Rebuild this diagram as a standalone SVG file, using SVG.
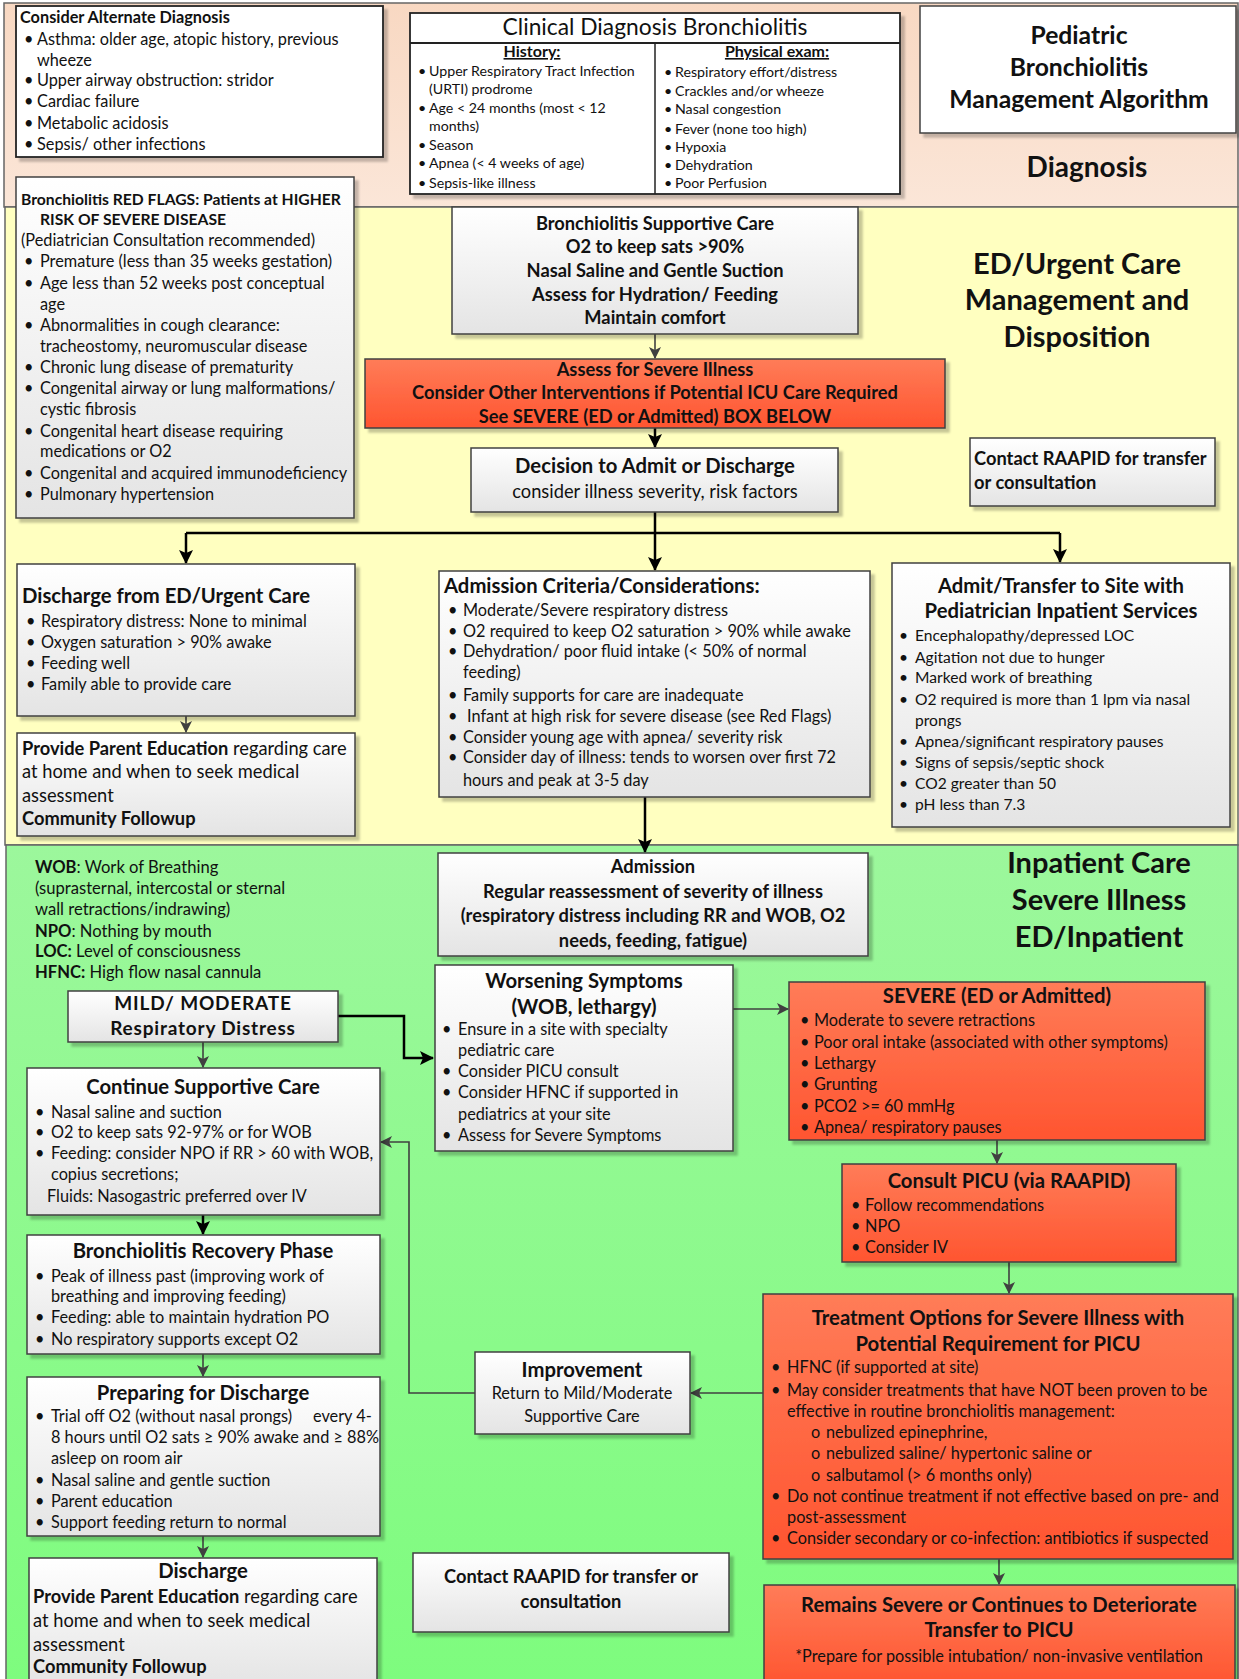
<svg xmlns="http://www.w3.org/2000/svg" width="1239" height="1679" viewBox="0 0 1239 1679">
<defs>
<linearGradient id="boxG" x1="0" y1="0" x2="0" y2="1"><stop offset="0" stop-color="#FFFFFF"/><stop offset="1" stop-color="#E4E4E4"/></linearGradient>
<linearGradient id="redG" x1="0" y1="0" x2="0" y2="1"><stop offset="0" stop-color="#FF7C58"/><stop offset="1" stop-color="#FF5530"/></linearGradient>
<linearGradient id="peachG" x1="0" y1="0" x2="0" y2="1"><stop offset="0" stop-color="#F8D8C2"/><stop offset="1" stop-color="#FBE6D8"/></linearGradient>
<linearGradient id="greenG" x1="0" y1="0" x2="0" y2="1"><stop offset="0" stop-color="#9CF79C"/><stop offset="1" stop-color="#7EFC7E"/></linearGradient>
<filter id="sh" x="-5%" y="-5%" width="115%" height="120%"><feDropShadow dx="4" dy="4" stdDeviation="1.2" flood-color="#000" flood-opacity="0.22"/></filter>
<marker id="ag" markerWidth="12" markerHeight="12" refX="11" refY="6" orient="auto" markerUnits="userSpaceOnUse"><path d="M0,0 L12,6 L0,12 L3,6 z" fill="#404040"/></marker>
<marker id="ab" markerWidth="14" markerHeight="14" refX="13" refY="7" orient="auto" markerUnits="userSpaceOnUse"><path d="M0,0 L14,7 L0,14 L3,7 z" fill="#000"/></marker>
<style>
text{font-family:Lato,'Liberation Sans',sans-serif;fill:#111;}
.b{font-weight:bold;}
.c{text-anchor:middle;}
.f14{font-size:14.2px;}
.h16{font-size:16px;font-weight:bold;text-anchor:middle;text-decoration:underline;}
.f15{font-size:15.6px;}
.f16{font-size:16.3px;}
.f18{font-size:18.3px;}
.t20{font-size:20.3px;font-weight:bold;}
.f23{font-size:22.8px;}
.f24{font-size:24.7px;}
.f28{font-size:29px;}
.box{fill:url(#boxG);stroke:#404040;stroke-width:1.5;filter:url(#sh);}
.red{fill:url(#redG);stroke:#404040;stroke-width:1.5;filter:url(#sh);}
.wb{fill:#fff;stroke:#222;stroke-width:1.8;filter:url(#sh);}
.cg{fill:none;stroke:#404040;stroke-width:1.6;marker-end:url(#ag);}
.cb{fill:none;stroke:#000;stroke-width:2.5;marker-end:url(#ab);}
</style>
</defs>

<!-- bands -->
<g id="bands">
<rect x="4" y="3" width="1234" height="204" fill="url(#peachG)" stroke="#666" stroke-width="1.5"/>
<rect x="5" y="207" width="1233" height="638" fill="#FFFFC0" stroke="#666" stroke-width="1.5"/>
<rect x="6" y="845" width="1232" height="836" fill="url(#greenG)" stroke="#666" stroke-width="1.5"/>
<text class="b c" style="font-size:28px" x="1087" y="177">Diagnosis</text>
<text class="b c f28" x="1077" y="274">ED/Urgent Care</text>
<text class="b c f28" x="1077" y="310">Management and</text>
<text class="b c f28" x="1077" y="347">Disposition</text>
<text class="b c f28" x="1099" y="873">Inpatient Care</text>
<text class="b c f28" x="1099" y="910">Severe Illness</text>
<text class="b c f28" x="1099" y="947">ED/Inpatient</text>
</g>

<!-- connectors -->
<g id="connectors">
<line class="cg" x1="655" y1="334" x2="655" y2="358"/>
<line class="cb" x1="655" y1="428" x2="655" y2="447"/>
<polyline fill="none" stroke="#000" stroke-width="2.5" points="655,512 655,533"/>
<polyline fill="none" stroke="#000" stroke-width="2.5" points="186,533 1060,533"/>
<line class="cb" x1="186" y1="533" x2="186" y2="563"/>
<line class="cb" x1="655" y1="533" x2="655" y2="570"/>
<line class="cb" x1="1060" y1="533" x2="1060" y2="562"/>
<line class="cg" x1="186" y1="716" x2="186" y2="732"/>
<line class="cb" x1="645" y1="797" x2="645" y2="852"/>
<line class="cg" x1="203" y1="1042" x2="203" y2="1067"/>
<polyline class="cb" points="338,1016 404,1016 404,1058 433,1058"/>
<line class="cb" x1="203" y1="1215" x2="203" y2="1234"/>
<line class="cg" x1="203" y1="1354" x2="203" y2="1376"/>
<line class="cg" x1="203" y1="1536" x2="203" y2="1557"/>
<line class="cg" x1="733" y1="1009" x2="788" y2="1009"/>
<line class="cg" x1="997" y1="1140" x2="997" y2="1163"/>
<line class="cg" x1="1009" y1="1262" x2="1009" y2="1293"/>
<line class="cg" x1="763" y1="1393" x2="691" y2="1393"/>
<polyline class="cg" points="475,1393 409,1393 409,1142 381,1142"/>
<line class="cg" x1="999" y1="1559" x2="999" y2="1584"/>
</g>

<!-- Diagnosis band nodes -->
<g id="alt-dx">
<rect class="wb" x="16" y="6" width="367" height="151"/>
<text class="b f16" x="20" y="23">Consider Alternate Diagnosis</text>
<text class="f16" x="24" y="45">•</text><text class="f16" x="37" y="45">Asthma: older age, atopic history, previous</text>
<text class="f16" x="37" y="66">wheeze</text>
<text class="f16" x="24" y="86">•</text><text class="f16" x="37" y="86">Upper airway obstruction: stridor</text>
<text class="f16" x="24" y="107">•</text><text class="f16" x="37" y="107">Cardiac failure</text>
<text class="f16" x="24" y="129">•</text><text class="f16" x="37" y="129">Metabolic acidosis</text>
<text class="f16" x="24" y="150">•</text><text class="f16" x="37" y="150">Sepsis/ other infections</text>
</g>

<g id="clinical-dx">
<rect class="wb" x="410" y="13" width="490" height="181"/>
<line x1="410" y1="43" x2="900" y2="43" stroke="#222" stroke-width="1.8"/>
<line x1="655" y1="43" x2="655" y2="194" stroke="#222" stroke-width="1.5"/>
<text class="c f23" x="655" y="35">Clinical Diagnosis Bronchiolitis</text>
<text class="h16" x="532" y="57">History:</text>
<text class="h16" x="777" y="57">Physical exam:</text>
<text class="f14" x="418" y="76">•</text><text class="f14" x="429" y="76">Upper Respiratory Tract Infection</text>
<text class="f14" x="429" y="94">(URTI) prodrome</text>
<text class="f14" x="418" y="113">•</text><text class="f14" x="429" y="113">Age &lt; 24 months (most &lt; 12</text>
<text class="f14" x="429" y="131">months)</text>
<text class="f14" x="418" y="150">•</text><text class="f14" x="429" y="150">Season</text>
<text class="f14" x="418" y="168">•</text><text class="f14" x="429" y="168">Apnea (&lt; 4 weeks of age)</text>
<text class="f14" x="418" y="188">•</text><text class="f14" x="429" y="188">Sepsis-like illness</text>
<text class="f14" x="664" y="77">•</text><text class="f14" x="675" y="77">Respiratory effort/distress</text>
<text class="f14" x="664" y="96">•</text><text class="f14" x="675" y="96">Crackles and/or wheeze</text>
<text class="f14" x="664" y="114">•</text><text class="f14" x="675" y="114">Nasal congestion</text>
<text class="f14" x="664" y="134">•</text><text class="f14" x="675" y="134">Fever (none too high)</text>
<text class="f14" x="664" y="152">•</text><text class="f14" x="675" y="152">Hypoxia</text>
<text class="f14" x="664" y="170">•</text><text class="f14" x="675" y="170">Dehydration</text>
<text class="f14" x="664" y="188">•</text><text class="f14" x="675" y="188">Poor Perfusion</text>
</g>

<g id="title">
<rect class="box" x="920" y="6" width="316" height="127" style="fill:#fff"/>
<text class="b c f24" x="1079" y="44">Pediatric</text>
<text class="b c f24" x="1079" y="76">Bronchiolitis</text>
<text class="b c f24" x="1079" y="108">Management Algorithm</text>
</g>

<!-- ED / Urgent care band -->
<g id="red-flags">
<rect class="box" x="16" y="177" width="338" height="341"/>
<text class="b" style="font-size:15.7px" x="21" y="205">Bronchiolitis RED FLAGS: Patients at HIGHER</text>
<text class="b" style="font-size:15.7px" x="40" y="225">RISK OF SEVERE DISEASE</text>
<text class="f16" x="21" y="246">(Pediatrician Consultation recommended)</text>
<text class="f16" x="24" y="267">•</text><text class="f16" x="40" y="267">Premature (less than 35 weeks gestation)</text>
<text class="f16" x="24" y="289">•</text><text class="f16" x="40" y="289">Age less than 52 weeks post conceptual</text>
<text class="f16" x="40" y="310">age</text>
<text class="f16" x="24" y="331">•</text><text class="f16" x="40" y="331">Abnormalities in cough clearance:</text>
<text class="f16" x="40" y="352">tracheostomy, neuromuscular disease</text>
<text class="f16" x="24" y="373">•</text><text class="f16" x="40" y="373">Chronic lung disease of prematurity</text>
<text class="f16" x="24" y="394">•</text><text class="f16" x="40" y="394">Congenital airway or lung malformations/</text>
<text class="f16" x="40" y="415">cystic fibrosis</text>
<text class="f16" x="24" y="437">•</text><text class="f16" x="40" y="437">Congenital heart disease requiring</text>
<text class="f16" x="40" y="457">medications or O2</text>
<text class="f16" x="24" y="479">•</text><text class="f16" x="40" y="479">Congenital and acquired immunodeficiency</text>
<text class="f16" x="24" y="500">•</text><text class="f16" x="40" y="500">Pulmonary hypertension</text>
</g>

<g id="supportive-care">
<rect class="box" x="452" y="207" width="406" height="127"/>
<text class="b c f18" x="655" y="230">Bronchiolitis Supportive Care</text>
<text class="b c f18" x="655" y="253">O2 to keep sats &gt;90%</text>
<text class="b c f18" x="655" y="277">Nasal Saline and Gentle Suction</text>
<text class="b c f18" x="655" y="301">Assess for Hydration/ Feeding</text>
<text class="b c f18" x="655" y="324">Maintain comfort</text>
</g>

<g id="assess-severe">
<rect class="red" x="365" y="359" width="580" height="69"/>
<text class="b c f18" x="655" y="376">Assess for Severe Illness</text>
<text class="b c f18" x="655" y="399">Consider Other Interventions if Potential ICU Care Required</text>
<text class="b c f18" x="655" y="423">See SEVERE (ED or Admitted) BOX BELOW</text>
</g>

<g id="decision">
<rect class="box" x="471" y="448" width="367" height="64"/>
<text class="c t20" x="655" y="473">Decision to Admit or Discharge</text>
<text class="c f18" x="655" y="498">consider illness severity, risk factors</text>
</g>

<g id="contact-raapid-1">
<rect class="box" x="970" y="438" width="245" height="68"/>
<text class="b f18" x="974" y="465">Contact RAAPID for transfer</text>
<text class="b f18" x="974" y="489">or consultation</text>
</g>

<g id="discharge-ed">
<rect class="box" x="17" y="564" width="338" height="152"/>
<text class="t20" x="22" y="603">Discharge from ED/Urgent Care</text>
<text class="f16" x="26" y="627">•</text><text class="f16" x="41" y="627">Respiratory distress: None to minimal</text>
<text class="f16" x="26" y="648">•</text><text class="f16" x="41" y="648">Oxygen saturation &gt; 90% awake</text>
<text class="f16" x="26" y="669">•</text><text class="f16" x="41" y="669">Feeding well</text>
<text class="f16" x="26" y="690">•</text><text class="f16" x="41" y="690">Family able to provide care</text>
</g>

<g id="parent-ed-1">
<rect class="box" x="17" y="733" width="338" height="103"/>
<text class="f18" x="22" y="755"><tspan class="b">Provide Parent Education</tspan> regarding care</text>
<text class="f18" x="22" y="778">at home and when to seek medical</text>
<text class="f18" x="22" y="802">assessment</text>
<text class="b f18" x="22" y="825">Community Followup</text>
</g>

<g id="admission-criteria">
<rect class="box" x="439" y="571" width="431" height="226"/>
<text class="t20" x="444" y="593">Admission Criteria/Considerations:</text>
<text class="f16" x="448" y="616">•</text><text class="f16" x="463" y="616">Moderate/Severe respiratory distress</text>
<text class="f16" x="448" y="637">•</text><text class="f16" x="463" y="637">O2 required to keep O2 saturation &gt; 90% while awake</text>
<text class="f16" x="448" y="657">•</text><text class="f16" x="463" y="657">Dehydration/ poor fluid intake (&lt; 50% of normal</text>
<text class="f16" x="463" y="678">feeding)</text>
<text class="f16" x="448" y="701">•</text><text class="f16" x="463" y="701">Family supports for care are inadequate</text>
<text class="f16" x="448" y="722">•</text><text class="f16" x="467" y="722">Infant at high risk for severe disease (see Red Flags)</text>
<text class="f16" x="448" y="743">•</text><text class="f16" x="463" y="743">Consider young age with apnea/ severity risk</text>
<text class="f16" x="448" y="763">•</text><text class="f16" x="463" y="763">Consider day of illness: tends to worsen over first 72</text>
<text class="f16" x="463" y="786">hours and peak at 3-5 day</text>
</g>

<g id="admit-transfer">
<rect class="box" x="892" y="563" width="338" height="264"/>
<text class="c t20" x="1061" y="593">Admit/Transfer to Site with</text>
<text class="c t20" x="1061" y="618">Pediatrician Inpatient Services</text>
<text class="f15" x="899" y="641">•</text><text class="f15" x="915" y="641">Encephalopathy/depressed LOC</text>
<text class="f15" x="899" y="663">•</text><text class="f15" x="915" y="663">Agitation not due to hunger</text>
<text class="f15" x="899" y="683">•</text><text class="f15" x="915" y="683">Marked work of breathing</text>
<text class="f15" x="899" y="705">•</text><text class="f15" x="915" y="705">O2 required is more than 1 lpm via nasal</text>
<text class="f15" x="915" y="726">prongs</text>
<text class="f15" x="899" y="747">•</text><text class="f15" x="915" y="747">Apnea/significant respiratory pauses</text>
<text class="f15" x="899" y="768">•</text><text class="f15" x="915" y="768">Signs of sepsis/septic shock</text>
<text class="f15" x="899" y="789">•</text><text class="f15" x="915" y="789">CO2 greater than 50</text>
<text class="f15" x="899" y="810">•</text><text class="f15" x="915" y="810">pH less than 7.3</text>
</g>

<!-- Inpatient band -->
<g id="abbreviations">
<text class="f16" x="35" y="873" style="font-size:16.6px"><tspan class="b">WOB</tspan>: Work of Breathing</text>
<text class="f16" x="35" y="894" style="font-size:16.6px">(suprasternal, intercostal or sternal</text>
<text class="f16" x="35" y="915" style="font-size:16.6px">wall retractions/indrawing)</text>
<text class="f16" x="35" y="937" style="font-size:16.6px"><tspan class="b">NPO</tspan>: Nothing by mouth</text>
<text class="f16" x="35" y="957" style="font-size:16.6px"><tspan class="b">LOC:</tspan> Level of consciousness</text>
<text class="f16" x="35" y="978" style="font-size:16.6px"><tspan class="b">HFNC:</tspan> High flow nasal cannula</text>
</g>

<g id="mild-moderate">
<rect class="box" x="68" y="991" width="270" height="51"/>
<text class="b c" style="font-size:19px" x="203" y="1010" letter-spacing="0.8">MILD/ MODERATE</text>
<text class="b c" style="font-size:19px" x="203" y="1035" letter-spacing="0.8">Respiratory Distress</text>
</g>

<g id="continue-care">
<rect class="box" x="27" y="1068" width="353" height="147"/>
<text class="c t20" x="203" y="1094">Continue Supportive Care</text>
<text class="f16" x="35" y="1118">•</text><text class="f16" x="51" y="1118">Nasal saline and suction</text>
<text class="f16" x="35" y="1138">•</text><text class="f16" x="51" y="1138">O2 to keep sats 92-97% or for WOB</text>
<text class="f16" x="35" y="1159">•</text><text class="f16" x="51" y="1159">Feeding: consider NPO if  RR &gt; 60 with WOB,</text>
<text class="f16" x="51" y="1180">copius secretions;</text>
<text class="f16" x="47" y="1202">Fluids: Nasogastric preferred over IV</text>
</g>

<g id="recovery">
<rect class="box" x="27" y="1235" width="353" height="119"/>
<text class="c t20" x="203" y="1258">Bronchiolitis Recovery Phase</text>
<text class="f16" x="35" y="1282">•</text><text class="f16" x="51" y="1282">Peak of illness past (improving work of</text>
<text class="f16" x="51" y="1302">breathing and improving feeding)</text>
<text class="f16" x="35" y="1323">•</text><text class="f16" x="51" y="1323">Feeding: able to maintain hydration PO</text>
<text class="f16" x="35" y="1345">•</text><text class="f16" x="51" y="1345">No respiratory supports except O2</text>
</g>

<g id="preparing">
<rect class="box" x="27" y="1377" width="353" height="159"/>
<text class="c t20" x="203" y="1400">Preparing for Discharge</text>
<text class="f16" x="35" y="1422">•</text><text class="f16" x="51" y="1422">Trial off O2 (without nasal prongs)</text><text class="f16" x="313" y="1422">every 4-</text>
<text class="f16" x="51" y="1443">8 hours until O2 sats ≥  90% awake and ≥ 88%</text>
<text class="f16" x="51" y="1464">asleep on room air</text>
<text class="f16" x="35" y="1486">•</text><text class="f16" x="51" y="1486">Nasal saline and gentle suction</text>
<text class="f16" x="35" y="1507">•</text><text class="f16" x="51" y="1507">Parent education</text>
<text class="f16" x="35" y="1528">•</text><text class="f16" x="51" y="1528">Support feeding return to normal</text>
</g>

<g id="discharge">
<rect class="box" x="29" y="1558" width="348" height="130"/>
<text class="c t20" x="203" y="1578">Discharge</text>
<text class="f18" x="33" y="1603"><tspan class="b">Provide Parent Education</tspan> regarding care</text>
<text class="f18" x="33" y="1627">at home and when to seek medical</text>
<text class="f18" x="33" y="1651">assessment</text>
<text class="b f18" x="33" y="1673">Community Followup</text>
</g>

<g id="admission">
<rect class="box" x="438" y="853" width="430" height="103"/>
<text class="b c f18" x="653" y="873">Admission</text>
<text class="b c f18" x="653" y="898">Regular reassessment of severity of illness</text>
<text class="b c f18" x="653" y="922">(respiratory distress including RR and WOB, O2</text>
<text class="b c f18" x="653" y="947">needs, feeding, fatigue)</text>
</g>

<g id="worsening">
<rect class="box" x="435" y="965" width="298" height="186"/>
<text class="c t20" x="584" y="988">Worsening Symptoms</text>
<text class="c t20" x="584" y="1014">(WOB, lethargy)</text>
<text class="f16" x="442" y="1035">•</text><text class="f16" x="458" y="1035">Ensure in a site with specialty</text>
<text class="f16" x="458" y="1056">pediatric care</text>
<text class="f16" x="442" y="1077">•</text><text class="f16" x="458" y="1077">Consider PICU consult</text>
<text class="f16" x="442" y="1098">•</text><text class="f16" x="458" y="1098">Consider HFNC if supported in</text>
<text class="f16" x="458" y="1120">pediatrics at your site</text>
<text class="f16" x="442" y="1141">•</text><text class="f16" x="458" y="1141">Assess for Severe Symptoms</text>
</g>

<g id="severe">
<rect class="red" x="789" y="982" width="416" height="158"/>
<text class="c t20" x="997" y="1003">SEVERE (ED or Admitted)</text>
<text class="f16" x="800" y="1026">•</text><text class="f16" x="814" y="1026">Moderate to severe retractions</text>
<text class="f16" x="800" y="1048">•</text><text class="f16" x="814" y="1048">Poor oral intake (associated with other symptoms)</text>
<text class="f16" x="800" y="1069">•</text><text class="f16" x="814" y="1069">Lethargy</text>
<text class="f16" x="800" y="1090">•</text><text class="f16" x="814" y="1090">Grunting</text>
<text class="f16" x="800" y="1112">•</text><text class="f16" x="814" y="1112">PCO2 &gt;= 60 mmHg</text>
<text class="f16" x="800" y="1133">•</text><text class="f16" x="814" y="1133">Apnea/ respiratory pauses</text>
</g>

<g id="consult-picu">
<rect class="red" x="842" y="1164" width="334" height="98"/>
<text class="c t20" x="1009" y="1188">Consult PICU (via RAAPID)</text>
<text class="f16" x="851" y="1211">•</text><text class="f16" x="865" y="1211">Follow recommendations</text>
<text class="f16" x="851" y="1232">•</text><text class="f16" x="865" y="1232">NPO</text>
<text class="f16" x="851" y="1253">•</text><text class="f16" x="865" y="1253">Consider IV</text>
</g>

<g id="treatment">
<rect class="red" x="763" y="1294" width="470" height="265"/>
<text class="c t20" x="998" y="1325">Treatment Options for Severe Illness with</text>
<text class="c t20" x="998" y="1351">Potential Requirement for PICU</text>
<text class="f16" x="771" y="1373">•</text><text class="f16" x="787" y="1373">HFNC (if supported at site)</text>
<text class="f16" x="771" y="1396">•</text><text class="f16" x="787" y="1396">May consider treatments that have NOT been proven to be</text>
<text class="f16" x="787" y="1417">effective in routine bronchiolitis management:</text>
<text class="f16" x="811" y="1438">o</text><text class="f16" x="826" y="1438">nebulized epinephrine,</text>
<text class="f16" x="811" y="1459">o</text><text class="f16" x="826" y="1459">nebulized saline/ hypertonic saline or</text>
<text class="f16" x="811" y="1481">o</text><text class="f16" x="826" y="1481">salbutamol (&gt; 6 months only)</text>
<text class="f16" x="771" y="1502">•</text><text class="f16" x="787" y="1502">Do not continue treatment if not effective based on pre- and</text>
<text class="f16" x="787" y="1523">post-assessment</text>
<text class="f16" x="771" y="1544">•</text><text class="f16" x="787" y="1544">Consider secondary or co-infection: antibiotics if suspected</text>
</g>

<g id="improvement">
<rect class="box" x="475" y="1352" width="215" height="82"/>
<text class="c t20" x="582" y="1377">Improvement</text>
<text class="c f16" x="582" y="1399">Return to Mild/Moderate</text>
<text class="c f16" x="582" y="1422">Supportive Care</text>
</g>

<g id="remains-severe">
<rect class="red" x="764" y="1585" width="471" height="100"/>
<text class="c t20" x="999" y="1612">Remains Severe or Continues to Deteriorate</text>
<text class="c t20" x="999" y="1637">Transfer to PICU</text>
<text class="c f16" x="999" y="1662">*Prepare for possible intubation/ non-invasive ventilation</text>
</g>

<g id="contact-raapid-2">
<rect class="box" x="413" y="1553" width="316" height="79"/>
<text class="b c f18" x="571" y="1583">Contact RAAPID for transfer or</text>
<text class="b c f18" x="571" y="1608">consultation</text>
</g>
</svg>
